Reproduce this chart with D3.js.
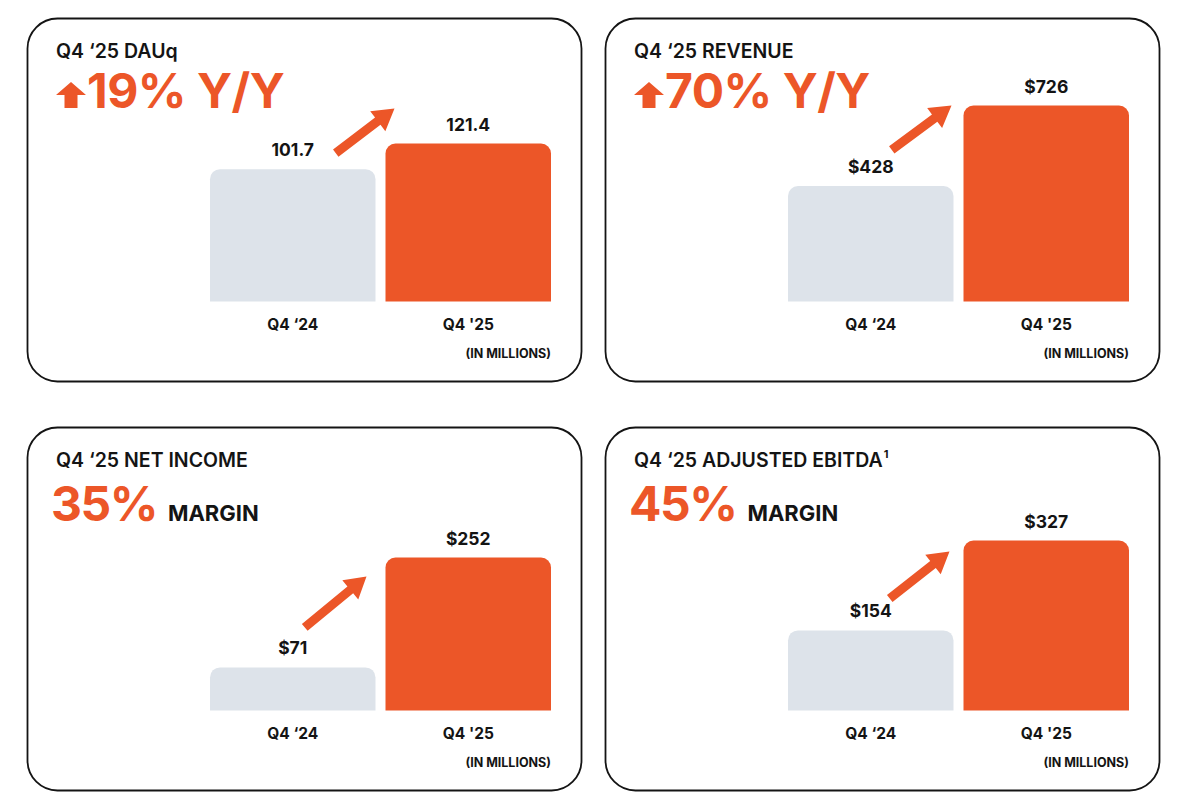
<!DOCTYPE html>
<html>
<head>
<meta charset="utf-8">
<script src="https://cdn.jsdelivr.net/npm/d3@7"></script>
<style>
  html, body { margin: 0; padding: 0; background: #fff; }
  svg { display: block; font-family: Inter, "Open Sans", sans-serif; }
</style>
</head>
<body>
<svg id="chart" width="1200" height="806"></svg>
<script>
// ---- data ----
const categories = ['Q4 \u201824', "Q4 '25"]
const panelTitles = ['Q4 \u201825 DAUq', 'Q4 \u201825 REVENUE', 'Q4 \u201825 NET INCOME', 'Q4 \u201825 ADJUSTED EBITDA']
const titleNotes = ['', '', '', '1']
const headlines = ['19%', '70%', '35%', '45%']
const headlineSuffix = ['Y/Y', 'Y/Y', 'MARGIN', 'MARGIN']
const headlineKind = ['growth', 'growth', 'margin', 'margin']
const dauq = [101.7, 121.4]
const revenue = [428, 726]
const netIncome = [71, 252]
const ebitda = [154, 327]
const seriesValues = [dauq, revenue, netIncome, ebitda]
const valuePrefix = ['', '$', '$', '$']
const valueFormat = [d3.format('.1f'), d3.format('d'), d3.format('d'), d3.format('d')]
const unitNote = '(IN MILLIONS)'

// ---- layout ----
const orange = '#EC5628'
const grey = '#DDE3EA'
const ink = '#141414'
const panelOrigin = [[27, 18], [605, 18], [27, 427], [605, 427]]
const panelW = 554
const panelH = 363
const barLeft = 183
const barRight = 524
const baseY = 283.5
const topBarHeight = [158, 196, 153, 170]
// arrow: tail offset from grey bar top-centre, tip offset from orange bar top-left
const arrowOffsets = [
	[[43, -16], [9, -35]],
	[[21, -36], [-12, 0]],
	[[12, -40], [-19, 19]],
	[[19, -32], [-14, 11]]
]

const svg = d3.select('#chart')

const x = d3.scaleBand()
	.domain(categories)
	.range([barLeft, barRight])
	.paddingInner(0.057)
	.paddingOuter(0)

function topRoundedBar (x0, y0, w, h, r) {
	r = Math.min(r, h, w / 2)
	const p = d3.path()
	p.moveTo(x0, y0 + h)
	p.lineTo(x0, y0 + r)
	p.arcTo(x0, y0, x0 + r, y0, r)
	p.lineTo(x0 + w - r, y0)
	p.arcTo(x0 + w, y0, x0 + w, y0 + r, r)
	p.lineTo(x0 + w, y0 + h)
	p.closePath()
	return p.toString()
}

function arrowPath (tail, tip) {
	const dx = tip[0] - tail[0]
	const dy = tip[1] - tail[1]
	const len = Math.hypot(dx, dy)
	const ux = dx / len, uy = dy / len
	const nx = -uy, ny = ux
	const shaft = 4.5, headHalf = 12.5, headLen = 21
	const neck = [tip[0] - ux * headLen, tip[1] - uy * headLen]
	const pts = [
		[tail[0] + nx * shaft, tail[1] + ny * shaft],
		[neck[0] + nx * shaft, neck[1] + ny * shaft],
		[neck[0] + nx * headHalf, neck[1] + ny * headHalf],
		tip,
		[neck[0] - nx * headHalf, neck[1] - ny * headHalf],
		[neck[0] - nx * shaft, neck[1] - ny * shaft],
		[tail[0] - nx * shaft, tail[1] - ny * shaft]
	]
	return 'M' + pts.map((p) => p.join(',')).join('L') + 'Z'
}

const panels = svg.selectAll('.panel')
	.data(panelTitles)
	.join('g')
		.attr('class', 'panel')
		.attr('transform', (d, i) => `translate(${panelOrigin[i][0]},${panelOrigin[i][1]})`)

panels.each(function (title, i) {
	const g = d3.select(this)
	const values = seriesValues[i]
	const y = d3.scaleLinear()
		.domain([0, d3.max(values)])
		.range([baseY, baseY - topBarHeight[i]])

	g.append('rect')
		.attr('x', 0.5)
		.attr('y', 0.5)
		.attr('width', panelW)
		.attr('height', panelH)
		.attr('rx', 30)
		.attr('fill', '#fff')
		.attr('stroke', ink)
		.attr('stroke-width', 1.8)

	// title
	const t = g.append('text')
		.attr('x', 29)
		.attr('y', 40)
		.attr('fill', ink)
		.attr('font-size', 19.5)
		.attr('font-weight', 600)
		.text(title)
	if (titleNotes[i]) {
		t.append('tspan')
			.attr('dy', -9)
			.attr('dx', 1)
			.attr('font-size', 11)
			.attr('font-weight', 700)
			.text(titleNotes[i])
	}

	// headline
	if (headlineKind[i] === 'growth') {
		g.append('path')
			.attr('d', 'M29,77 L44,64 L59,77 L50.5,77 L50.5,90 L37.5,90 L37.5,77 Z')
			.attr('fill', orange)
		g.append('text')
			.attr('x', 60)
			.attr('y', 90)
			.attr('fill', orange)
			.attr('font-size', 48)
			.attr('font-weight', 700)
			.attr('letter-spacing', -0.5)
			.text(headlines[i] + ' ' + headlineSuffix[i])
	} else {
		const h = g.append('text')
			.attr('x', 24)
			.attr('y', 94)
			.attr('fill', orange)
			.attr('font-size', 48)
			.attr('font-weight', 700)
			.attr('letter-spacing', -1.5)
			.text(headlines[i])
		h.append('tspan')
			.attr('dx', 11)
			.attr('fill', ink)
			.attr('font-size', 22)
			.attr('font-weight', 700)
			.attr('letter-spacing', 0)
			.text(headlineSuffix[i])
	}

	// bars
	g.selectAll('.bar')
		.data(values)
		.join('path')
			.attr('class', 'bar')
			.attr('fill', (d, j) => j === 0 ? grey : orange)
			.attr('d', (d, j) => topRoundedBar(x(categories[j]), y(d), x.bandwidth(), baseY - y(d), 10))

	// value labels
	g.selectAll('.value')
		.data(values)
		.join('text')
			.attr('class', 'value')
			.attr('x', (d, j) => x(categories[j]) + x.bandwidth() / 2)
			.attr('y', (d) => y(d) - 13)
			.attr('text-anchor', 'middle')
			.attr('fill', ink)
			.attr('font-size', 17.5)
			.attr('font-weight', 700)
			.text((d) => valuePrefix[i] + valueFormat[i](d))

	// category labels
	g.selectAll('.cat')
		.data(categories)
		.join('text')
			.attr('class', 'cat')
			.attr('x', (d) => x(d) + x.bandwidth() / 2)
			.attr('y', 312)
			.attr('text-anchor', 'middle')
			.attr('fill', ink)
			.attr('font-size', 15.5)
			.attr('font-weight', 700)
			.text((d) => d)

	g.append('text')
		.attr('x', barRight)
		.attr('y', 340)
		.attr('text-anchor', 'end')
		.attr('fill', ink)
		.attr('font-size', 12.5)
		.attr('font-weight', 700)
		.text(unitNote)

	// growth arrow between the bars
	const off = arrowOffsets[i]
	const tail = [x(categories[0]) + x.bandwidth() / 2 + off[0][0], y(values[0]) + off[0][1]]
	const tip = [x(categories[1]) + off[1][0], y(values[1]) + off[1][1]]
	g.append('path')
		.attr('d', arrowPath(tail, tip))
		.attr('fill', orange)
})
</script>
</body>
</html>
